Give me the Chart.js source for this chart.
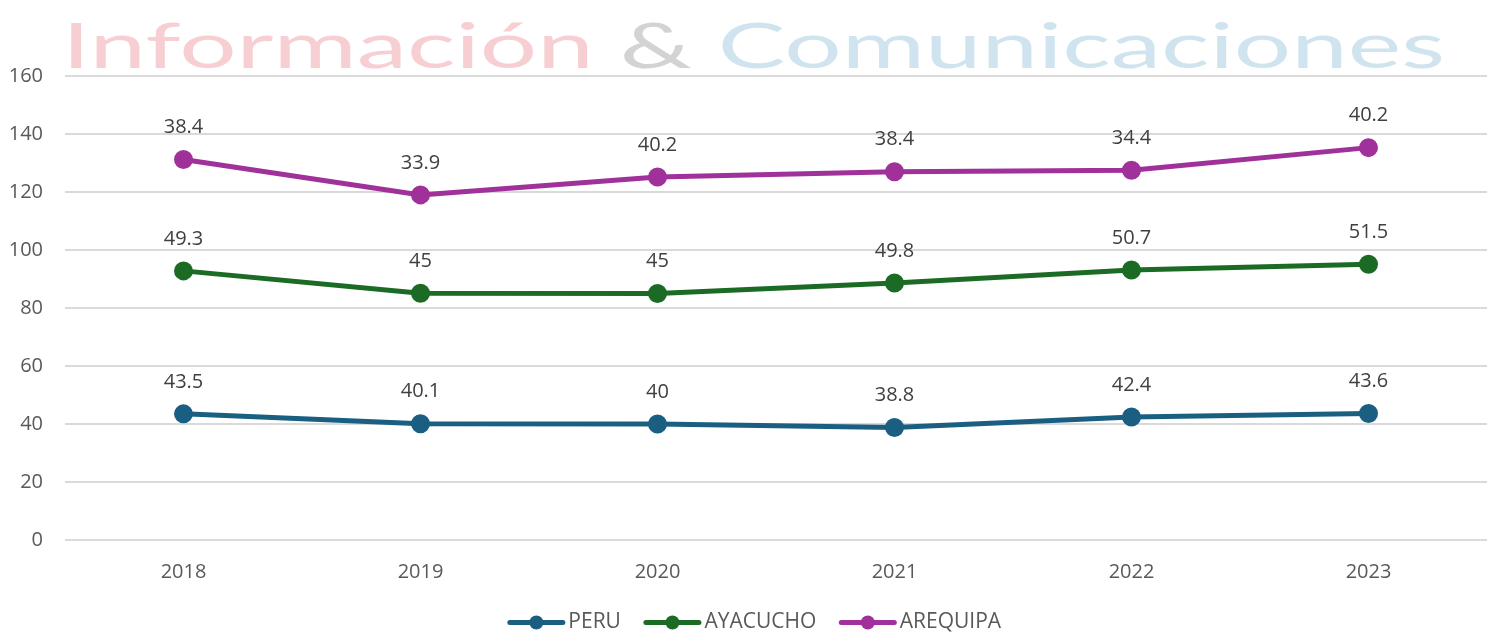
<!DOCTYPE html>
<html>
<head>
<meta charset="utf-8">
<script src="https://cdn.jsdelivr.net/npm/chart.js@4/dist/chart.umd.min.js"></script>
<style>
  html, body { margin: 0; padding: 0; background: #fff; }
  #wrap { width: 1499px; height: 635px; }
</style>
</head>
<body>
<div id="wrap"><canvas id="chart" width="1499" height="635"></canvas></div>
<script>
const years    = ['2018', '2019', '2020', '2021', '2022', '2023'];
const peru     = [43.5, 40.1, 40, 38.8, 42.4, 43.6];
const ayacucho = [49.3, 45, 45, 49.8, 50.7, 51.5];
const arequipa = [38.4, 33.9, 40.2, 38.4, 34.4, 40.2];

const FONT = "'Open Sans', 'Liberation Sans', sans-serif";
const LEGEND_SHIFT = 8;

// watermark text behind the plot
const watermark = {
  id: 'watermark',
  beforeDraw(chart) {
    const c = chart.ctx;
    c.save();
    const parts = [['Información ', 'rgba(232,120,130,0.36)'], ['& ', 'rgba(120,120,120,0.33)'], ['Comunicaciones', 'rgba(110,170,205,0.32)']];
    c.font = `62px 'Lato', ${FONT}`;
    c.textBaseline = 'alphabetic';
    const w = parts.reduce((s, [t]) => s + c.measureText(t).width, 0);
    c.translate(62, 68);
    c.scale(1383 / w, 1);
    let x = 0;
    parts.forEach(([t, col]) => {
      c.fillStyle = col;
      c.fillText(t, x, 0);
      x += c.measureText(t).width;
    });
    c.restore();
  },
};

// value labels above each point (own value, not stacked)
const valueLabels = {
  id: 'valueLabels',
  afterDatasetsDraw(chart) {
    const c = chart.ctx;
    c.save();
    c.font = `20px ${FONT}`;
    c.fillStyle = '#404040';
    c.textAlign = 'center';
    c.textBaseline = 'middle';
    chart.data.datasets.forEach((ds, i) => {
      chart.getDatasetMeta(i).data.forEach((pt, j) => {
        c.fillText(String(ds.data[j]), pt.x, pt.y - 32);
      });
    });
    c.restore();
  },
};

// push the legend a bit lower, then draw line + dot markers in its boxes
const legendMarkers = {
  id: 'legendMarkers',
  beforeDraw(chart) {
    const lg = chart.legend;
    if (lg._shifted) return;
    lg.top += LEGEND_SHIFT;
    lg.bottom += LEGEND_SHIFT;
    lg.legendHitBoxes.forEach(b => { b.top += LEGEND_SHIFT; });
    lg._shifted = true;
  },
  afterDraw(chart) {
    const lg = chart.legend;
    const c = chart.ctx;
    const bw = lg.options.labels.boxWidth;
    c.save();
    lg.legendHitBoxes.forEach((box, i) => {
      const col = chart.data.datasets[i].borderColor;
      const y = box.top + box.height / 2;
      const x1 = box.left + 22, x2 = box.left + bw + 5;
      c.strokeStyle = col; c.lineWidth = 5; c.lineCap = 'round';
      c.beginPath(); c.moveTo(x1, y); c.lineTo(x2, y); c.stroke();
      c.fillStyle = col;
      c.beginPath(); c.arc((x1 + x2) / 2, y, 7, 0, Math.PI * 2); c.fill();
    });
    c.restore();
  },
};

function series(label, data, color) {
  return {
    label, data,
    borderColor: color,
    backgroundColor: color,
    pointBackgroundColor: color,
    pointBorderColor: color,
    borderWidth: 5,
    pointRadius: 7,
    pointHoverRadius: 7,
    tension: 0,
    fill: false,
  };
}

new Chart(document.getElementById('chart'), {
  type: 'line',
  data: {
    labels: years,
    datasets: [
      series('PERU', peru, '#1a5f82'),
      series('AYACUCHO', ayacucho, '#1c6b25'),
      series('AREQUIPA', arequipa, '#a0309a'),
    ],
  },
  options: {
    responsive: false,
    animation: false,
    layout: { padding: { left: 0, right: 10, top: 76, bottom: 0 } },
    plugins: {
      legend: {
        position: 'bottom',
        labels: {
          font: { family: FONT, size: 21 },
          color: '#595959',
          boxWidth: 70,
          boxHeight: 10,
          padding: 3,
          generateLabels(chart) {
            return chart.data.datasets.map((ds, i) => ({
              text: ds.label, fillStyle: 'rgba(0,0,0,0)', strokeStyle: 'rgba(0,0,0,0)',
              lineWidth: 0, datasetIndex: i, hidden: false, fontColor: '#595959',
            }));
          },
        },
      },
      tooltip: { enabled: false },
    },
    scales: {
      x: {
        offset: true,
        afterFit(axis) { axis.height += 5; },
        grid: { display: false },
        border: { display: false },
        ticks: { font: { family: FONT, size: 20 }, color: '#595959', padding: 12 },
      },
      y: {
        stacked: true,
        min: 0, max: 160,
        afterFit(axis) { axis.width = 65; },
        ticks: { stepSize: 20, font: { family: FONT, size: 20 }, color: '#595959', padding: 22 },
        grid: { color: '#d9d9d9', lineWidth: 2, drawTicks: false },
        border: { display: false },
      },
    },
  },
  plugins: [watermark, valueLabels, legendMarkers],
});
</script>
</body>
</html>
